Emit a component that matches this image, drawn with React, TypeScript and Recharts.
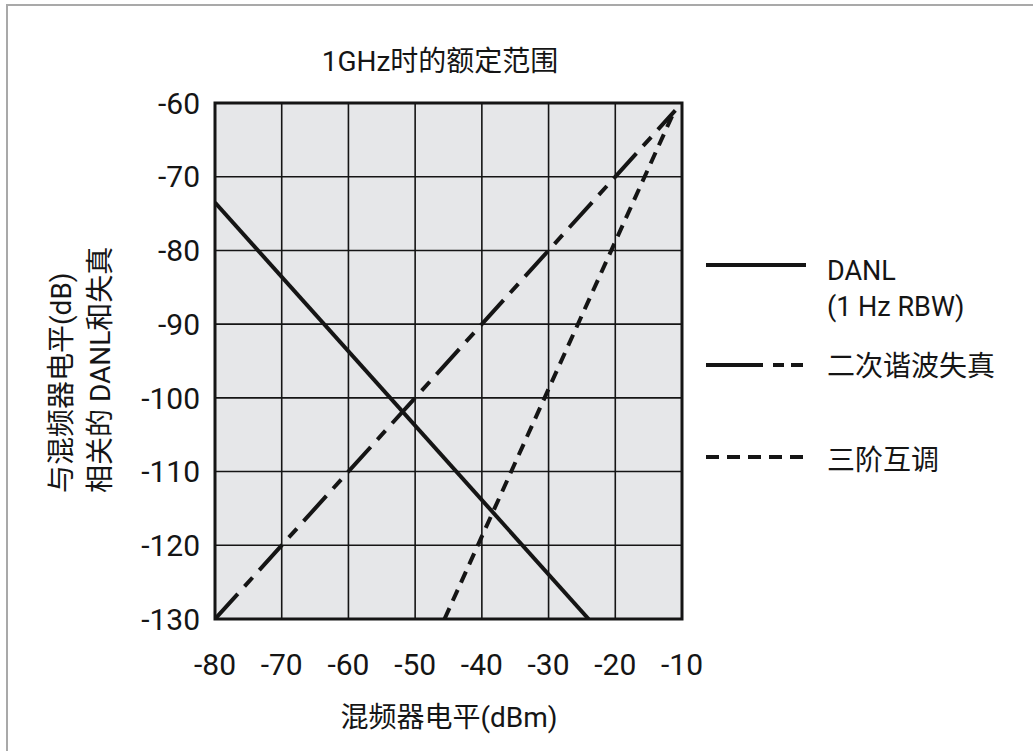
import React from 'react';
import { LineChart, Line, XAxis, YAxis, CartesianGrid, ReferenceArea, Legend } from 'recharts';

const xTicks = [-80, -70, -60, -50, -40, -30, -20, -10];
const yTicks = [-60, -70, -80, -90, -100, -110, -120, -130];

const danl = [
  { x: -80, y: -73.5 },
  { x: -24, y: -130 },
];
const secondHarmonic = [
  { x: -80, y: -130 },
  { x: -11, y: -61 },
];
const thirdOrder = [
  { x: -45.6, y: -130 },
  { x: -11, y: -60.8 },
];

const seriesNames = ['DANL', '二次谐波失真', '三阶互调'];
const danlSub = '(1 Hz RBW)';
const title = '1GHz时的额定范围';
const xLabel = '混频器电平(dBm)';
const yLabel1 = '与混频器电平(dB)';
const yLabel2 = '相关的 DANL和失真';

const FONT = "Roboto, 'Noto Sans CJK SC', sans-serif";
const INK = '#151515';

const LegendContent = () => (
  <svg width={330} height={250} style={{ display: 'block', overflow: 'visible' }}>
    <line x1={6} y1={25} x2={106} y2={25} stroke={INK} strokeWidth={4} />
    <text x={127} y={40} fontSize={27} fontFamily={FONT} fill={INK}>{seriesNames[0]}</text>
    <text x={127} y={76} fontSize={27} fontFamily={FONT} fill={INK}>{danlSub}</text>
    <line x1={6} y1={125} x2={106} y2={125} stroke={INK} strokeWidth={4} strokeDasharray="57 10 11 7 12" />
    <text x={127} y={126} fontSize={28} fontFamily={FONT} fill={INK} dominantBaseline="central">{seriesNames[1]}</text>
    <line x1={6} y1={217} x2={106} y2={217} stroke={INK} strokeWidth={4} strokeDasharray="13 8" />
    <text x={127} y={220} fontSize={28} fontFamily={FONT} fill={INK} dominantBaseline="central">{seriesNames[2]}</text>
  </svg>
);

export default function App() {
  return (
    <div style={{ position: 'absolute', left: 0, top: 0, width: 1033, height: 751, background: '#fff', overflow: 'hidden' }}>
      <div style={{ position: 'absolute', left: 6, top: 4, width: 1100, height: 800, borderLeft: '2px solid #a9a9a9', borderTop: '2px solid #a9a9a9' }} />
      <div style={{ position: 'absolute', left: 0, top: 44, width: 880, textAlign: 'center', fontFamily: FONT, fontSize: 28, color: INK, lineHeight: '36px' }}>
        {title}
      </div>
      <div style={{ position: 'absolute', left: 0, top: 0 }}>
        <LineChart width={1033} height={751} margin={{ top: 103, right: 351, bottom: 102, left: 155 }}>
          <CartesianGrid fill="#e6e7e9" stroke={INK} strokeWidth={1.6} horizontalValues={yTicks} verticalValues={xTicks} />
          <XAxis
            type="number"
            dataKey="x"
            domain={[-80, -10]}
            ticks={xTicks}
            interval={0}
            height={30}
            axisLine={false}
            tickLine={false}
            tickSize={0}
            tickMargin={35}
            tick={{ fontSize: 30, fill: INK, fontFamily: FONT }}
            allowDataOverflow
            label={{
              content: () => (
                <text x={449} y={717} textAnchor="middle" dominantBaseline="central" fontSize={28} fontFamily={FONT} fill={INK}>
                  {xLabel}
                </text>
              ),
            }}
          />
          <YAxis
            type="number"
            dataKey="y"
            domain={[-130, -60]}
            ticks={yTicks}
            interval={0}
            width={60}
            axisLine={false}
            tickLine={false}
            tickSize={0}
            tickMargin={15}
            tick={{ fontSize: 30, fill: INK, fontFamily: FONT }}
            allowDataOverflow
            label={{
              content: () => (
                <g>
                  <text x={61} y={493} transform="rotate(-90 61 493)" textAnchor="start" dominantBaseline="central" fontSize={28} fontFamily={FONT} fill={INK}>
                    {yLabel1}
                  </text>
                  <text x={100} y={493} transform="rotate(-90 100 493)" textAnchor="start" dominantBaseline="central" fontSize={28} fontFamily={FONT} fill={INK}>
                    {yLabel2}
                  </text>
                </g>
              ),
            }}
          />
          <ReferenceArea x1={-80} x2={-10} y1={-130} y2={-60} fill="none" stroke={INK} strokeWidth={3} ifOverflow="visible" />
          <Line data={danl} dataKey="y" name={seriesNames[0]} type="linear" stroke={INK} strokeWidth={4} dot={false} isAnimationActive={false} />
          <Line data={secondHarmonic} dataKey="y" name={seriesNames[1]} type="linear" stroke={INK} strokeWidth={4} strokeDasharray="34 10 12 10" dot={false} isAnimationActive={false} />
          <Line data={thirdOrder} dataKey="y" name={seriesNames[2]} type="linear" stroke={INK} strokeWidth={4} strokeDasharray="12 8" dot={false} isAnimationActive={false} />
          <Legend
            layout="horizontal"
            verticalAlign="middle"
            align="center"
            wrapperStyle={{ position: 'absolute', left: 700, top: 240, width: 330, height: 250 }}
            content={() => <LegendContent />}
          />
        </LineChart>
      </div>
    </div>
  );
}
